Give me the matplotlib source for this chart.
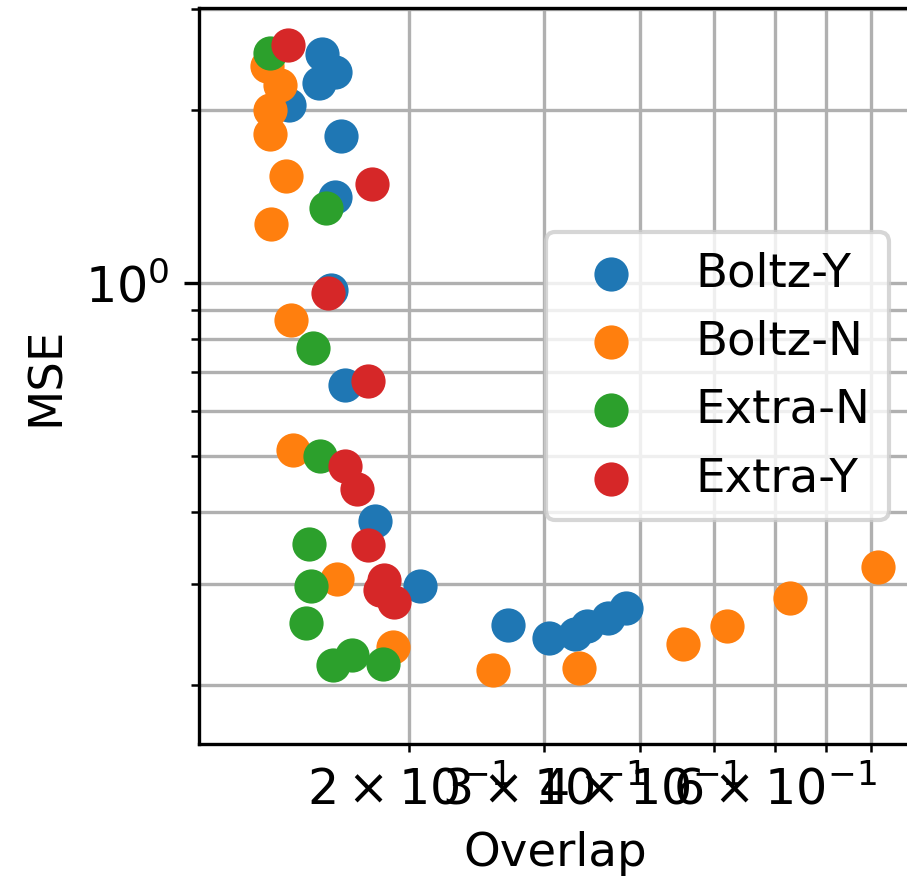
import numpy as np
from matplotlib import pyplot as plt

# overlap / mse pairs
boltz_y_overlap = [0.1539, 0.1602, 0.1526, 0.1396, 0.1631, 0.1602, 0.1581, 0.1651,
                   0.1806, 0.2067, 0.2690, 0.3044, 0.3286, 0.3410, 0.3638, 0.3834]
boltz_y_mse = [2.499, 2.330, 2.225, 2.040, 1.802, 1.411, 0.9724, 0.6646,
               0.3860, 0.2976, 0.2545, 0.2419, 0.2459, 0.2532, 0.2618, 0.2721]

boltz_n_overlap = [0.1305, 0.1358, 0.1317, 0.1315, 0.1381, 0.1321, 0.1402, 0.1413,
                   0.1610, 0.1904, 0.2576, 0.3326, 0.4550, 0.5200, 0.6278, 0.8184]
boltz_n_mse = [2.387, 2.210, 2.000, 1.821, 1.537, 1.266, 0.8645, 0.5138,
               0.3057, 0.2330, 0.2129, 0.2143, 0.2356, 0.2532, 0.2840, 0.3216]

extra_n_overlap = [0.1317, 0.1557, 0.1500, 0.1531, 0.1481, 0.1489, 0.1467, 0.1687,
                   0.1589, 0.1848]
extra_n_mse = [2.512, 1.349, 0.7707, 0.5007, 0.3517, 0.2976, 0.2560, 0.2255,
               0.2172, 0.2175]

extra_y_overlap = [0.1390, 0.1791, 0.1569, 0.1770, 0.1651, 0.1712, 0.1770, 0.1857,
                   0.1833, 0.1912]
extra_y_mse = [2.594, 1.488, 0.9619, 0.6772, 0.4811, 0.4395, 0.3502, 0.3044,
               0.2924, 0.2791]

plt.rcParams['font.size'] = 11.2

fig = plt.figure(figsize=(907/300, 881/300), dpi=300)
ax = fig.add_axes([0.2194, 0.1555, 0.786, 0.8354])

ax.scatter(boltz_y_overlap, boltz_y_mse, s=52, label='Boltz-Y')
ax.scatter(boltz_n_overlap, boltz_n_mse, s=52, label='Boltz-N')
ax.scatter(extra_n_overlap, extra_n_mse, s=52, label='Extra-N')
ax.scatter(extra_y_overlap, extra_y_mse, s=52, label='Extra-Y')

ax.set_xscale('log')
ax.set_yscale('log')
ax.set_xlim(0.1064, 0.905)
ax.set_ylim(0.158, 3.01)
ax.grid(True, which='both')
ax.set_axisbelow(True)
ax.tick_params(which='both', labelsize=11.8)
ax.set_xlabel('Overlap')
ax.set_ylabel('MSE')
ax.legend(loc='center right')

fig.savefig('out.png', dpi=300)
